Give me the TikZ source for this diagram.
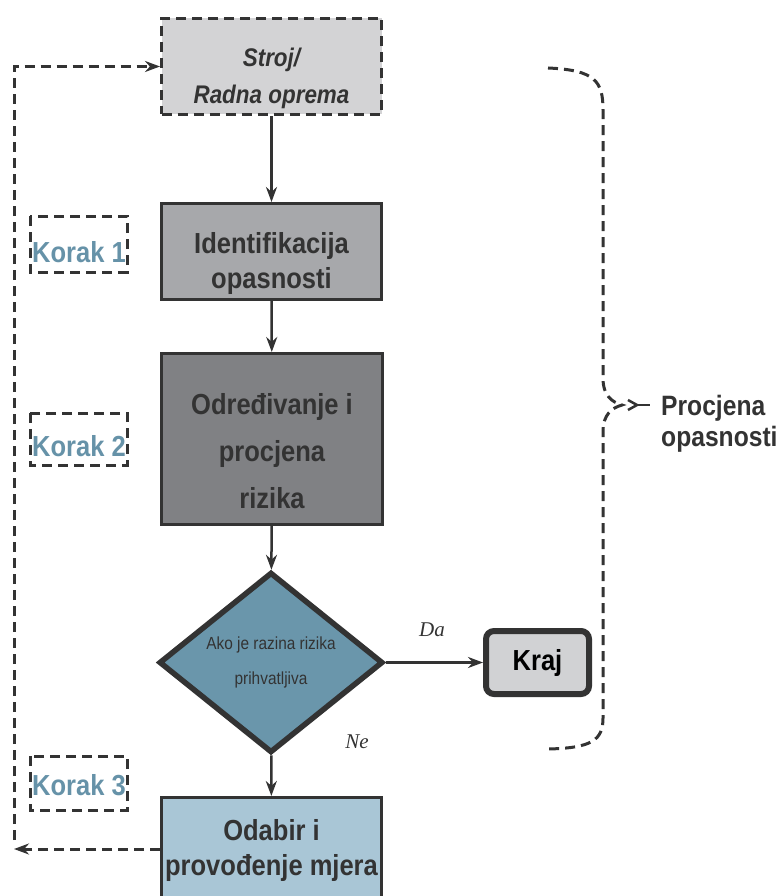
\documentclass[tikz,border=0pt]{standalone}
\usepackage{fontspec}
\setmainfont{Liberation Sans}[FakeStretch=0.88]
\newfontfamily\serifit{Liberation Serif}
\usetikzlibrary{shapes.geometric,arrows.meta}
\definecolor{edge}{HTML}{333333}
\definecolor{strojfill}{HTML}{D3D3D5}
\definecolor{identfill}{HTML}{A7A8AB}
\definecolor{odredfill}{HTML}{808184}
\definecolor{odlukafill}{HTML}{6A96AB}
\definecolor{odabirfill}{HTML}{A9C6D6}
\definecolor{krajfill}{HTML}{D1D2D4}
\definecolor{korakcol}{HTML}{6692A8}

\begin{document}
\begin{tikzpicture}[x=1pt,y=1pt]
\tikzstyle{every node}+=[inner sep=0pt, text=edge, align=center]
\tikzstyle{big}=[font=\bfseries\fontsize{29}{35}\selectfont]
\tikzstyle{box}=[rectangle, draw=edge, line width=3pt, minimum width=220pt, minimum height=96pt]
\tikzstyle{dashline}=[draw=edge, line width=3pt, dash pattern=on 10pt off 6pt]
\tikzstyle{tip}=[-{Stealth[length=15pt,width=11pt]}]
\tikzstyle{flow}=[draw=edge, line width=2.5pt, tip]
\tikzstyle{decision}=[diamond, draw=edge, line width=5.5pt, fill=odlukafill, minimum width=224pt, minimum height=175pt, font=\fontsize{17.5}{35}\selectfont]
\tikzstyle{endbox}=[big, rectangle, rounded corners=8pt, draw=edge, line width=6pt, fill=krajfill, minimum width=103pt, minimum height=63pt, text=black]
\tikzstyle{korak}=[big, text=korakcol]
\tikzstyle{yesno}=[font=\serifit\itshape\fontsize{21}{24}\selectfont]
\useasboundingbox (0,0) rectangle (783,-896);

% flow boxes
\node[box, dashline, fill=strojfill] (stroj) at (271.5,-66.5) {};
\node[font=\bfseries\itshape\fontsize{25.5}{37}\selectfont] (strojtxt) at ([yshift=-12pt]stroj.center) {Stroj/\\Radna oprema};
\node[box, fill=identfill] (ident) at (271.5,-251.5) {};
\node[big] (identtxt) at ([yshift=-12pt]ident.center) {Identifikacija\\opasnosti};
\node[box, fill=odredfill, minimum width=221pt, minimum height=171pt] (odred) at (272,-439) {};
\node[big, font=\bfseries\fontsize{29}{47}\selectfont] (odredtxt) at ([yshift=-12pt]odred.center) {Određivanje i\\procjena\\rizika};
\node[decision] (odluka) at (271,-662.5) {Ako je razina rizika\\prihvatljiva};
\node[endbox] (kraj) at (537.5,-662.5) {Kraj};
\node[box, fill=odabirfill, minimum height=103pt] (odabir) at (271.5,-849) {};
\node[big] (odabirtxt) at ([yshift=-1pt]odabir.center) {Odabir i\\provođenje mjera};

% connectors
\draw[flow] (stroj) -- (ident);
\draw[flow] (ident) -- (odred);
\draw[flow] (odred) -- (odluka);
\draw[flow] (odluka) -- (kraj);
\draw[flow] (odluka) -- (odabir);
\node[yesno] (da) at (432,-630) {Da};
\node[yesno] (ne) at (357,-742) {Ne};

% koraci
\foreach \n/\t/\b/\y in {1/216/272/252, 2/413/465/446, 3/756/810/785} {
  \draw[dashline] (30,-\t) rectangle (127,-\b);
  \node[korak] (korak\n) at (79,-\y) {Korak \n};
}

% povratna petlja
\coordinate (loopdl) at (14,-849);
\coordinate (loopstart) at (14,-840);
\coordinate (loopul) at (14,-66.5);
\draw[dashline, tip] (odabir.west) -- (loopdl);
\draw[dashline, tip] (loopstart) -- (loopul) -- (stroj.west);

% zagrada
\coordinate (brtip) at (622,-405);
\draw[dashline] (548,-68) .. controls (596,-70) and (603,-82) .. (603,-110)
  -- (603,-378) .. controls (603,-396) and (612,-402) .. (brtip)
  .. controls (612,-408) and (603,-414) .. (603,-432)
  -- (603,-718) .. controls (603,-740) and (592,-748) .. (548,-749);
\draw[edge, line width=2.5pt] (628,-400) -- (637,-405) -- (628,-410);
\draw[edge, line width=2.5pt] (637,-405) -- (650,-405);
\node[big, anchor=west, align=left, font=\bfseries\fontsize{28}{31}\selectfont] (procjena) at (661,-424) {Procjena\\opasnosti};
\end{tikzpicture}
\end{document}
